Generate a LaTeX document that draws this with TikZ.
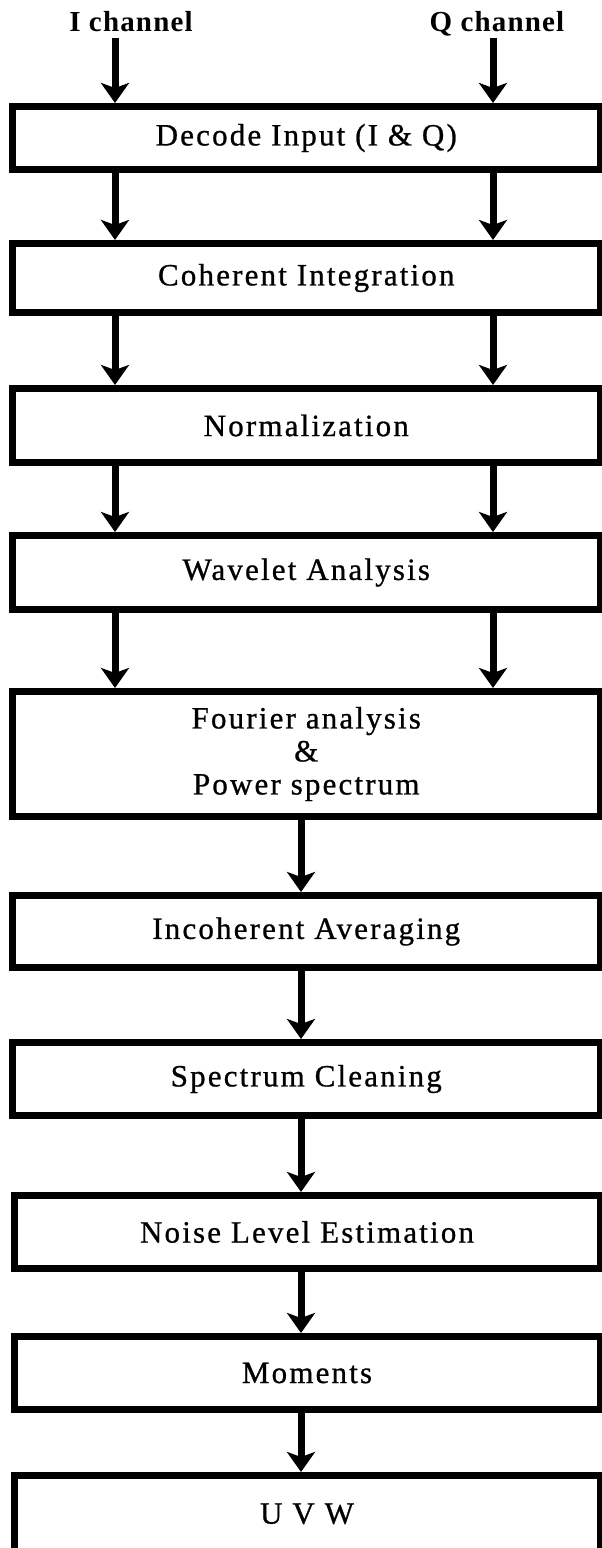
\documentclass[tikz,border=0pt]{standalone}
\usepackage{fontspec}
\setmainfont{Liberation Serif}
\newfontfamily\boxfont{Liberation Serif}[LetterSpace=7,FakeBold=0.8]
\newfontfamily\labfont{Liberation Serif}[LetterSpace=4]
\usetikzlibrary{arrows.meta}
\begin{document}
\begin{tikzpicture}[x=1pt,y=-1pt,
  box/.style={draw=black, line width=7pt, fill=white, inner sep=0pt,
    font=\boxfont\fontsize{31}{33}\selectfont, align=center},
  lab/.style={inner sep=0pt, anchor=base, font=\labfont\bfseries\fontsize{29}{33}\selectfont},
  arr/.style={line width=7pt, -{Stealth[length=20pt,width=28pt,inset=5pt]}}]
\useasboundingbox[fill=white] (0,0) rectangle (602,1548);
% column positions
\coordinate (L) at (115,0);
\coordinate (R) at (493,0);
\coordinate (C) at (301,0);
% labels
\node[lab] (Ilab) at (131,31) {I channel};
\node[lab] (Qlab) at (497,31) {Q channel};
% boxes
\node[box, minimum width=587.5pt, minimum height=63pt] (decode) at (306.25,138) {Decode Input (I \& Q)};
\node[box, minimum width=587.5pt, minimum height=69pt] (coh) at (306.25,278) {Coherent Integration};
\node[box, minimum width=587.5pt, minimum height=74pt] (norm) at (306.25,425.5) {Normalization};
\node[box, minimum width=587.5pt, minimum height=74pt] (wav) at (306.25,572.5) {Wavelet Analysis};
\node[box, minimum width=587.5pt, minimum height=125pt] (four) at (306.25,754) {Fourier analysis\\[0pt]\&\\[0pt]Power spectrum};
\node[box, minimum width=587.5pt, minimum height=72pt] (inco) at (306.25,931.5) {Incoherent Averaging};
\node[box, minimum width=587.5pt, minimum height=73pt] (spec) at (306.25,1079) {Spectrum Cleaning};
\node[box, minimum width=586pt, minimum height=73pt] (noise) at (307,1232) {Noise Level Estimation};
\node[box, minimum width=586pt, minimum height=73pt] (mom) at (307,1373) {Moments};
\node[box, minimum width=586pt, minimum height=76.5pt] (uvw) at (307,1513.75) {U V W};
% arrow start points under the labels
\path (Ilab.base -| L) ++(0,7) coordinate (Itop);
\path (Qlab.base -| R) ++(0,7) coordinate (Qtop);
% arrows
\draw[arr] (Itop) -- (decode.north -| L);
\draw[arr] (Qtop) -- (decode.north -| R);
\draw[arr] (decode.south -| L) -- (coh.north -| L);
\draw[arr] (decode.south -| R) -- (coh.north -| R);
\draw[arr] (coh.south -| L) -- (norm.north -| L);
\draw[arr] (coh.south -| R) -- (norm.north -| R);
\draw[arr] (norm.south -| L) -- (wav.north -| L);
\draw[arr] (norm.south -| R) -- (wav.north -| R);
\draw[arr] (wav.south -| L) -- (four.north -| L);
\draw[arr] (wav.south -| R) -- (four.north -| R);
\draw[arr] (four.south -| C) -- (inco.north -| C);
\draw[arr] (inco.south -| C) -- (spec.north -| C);
\draw[arr] (spec.south -| C) -- (noise.north -| C);
\draw[arr] (noise.south -| C) -- (mom.north -| C);
\draw[arr] (mom.south -| C) -- (uvw.north -| C);
\end{tikzpicture}
\end{document}
